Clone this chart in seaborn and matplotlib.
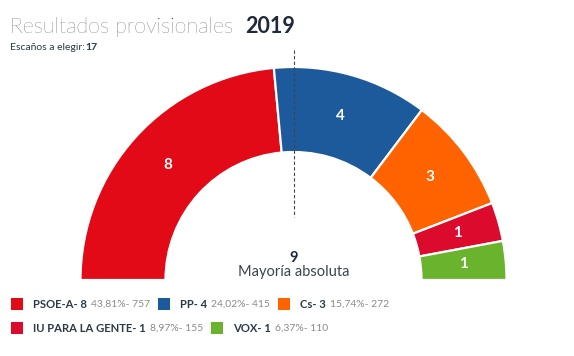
import matplotlib
matplotlib.use("Agg")
import matplotlib.pyplot as plt
import seaborn as sns

# ----------------------------------
# Data
# ----------------------------------
parties = ["PSOE-A", "PP", "Cs", "IU PARA LA GENTE", "VOX"]
seats = [8, 4, 3, 1, 1]
pct_labels = ["43,81%", "24,02%", "15,74%", "8,97%", "6,37%"]
votes = [757, 415, 272, 155, 110]
colors = ["#E30A17", "#1C5A9C", "#FF6300", "#DC0A2D", "#6AB42D"]
total_seats = 17
majority = 9
year = "2019"

sns.set_style("white")
plt.rcParams["font.family"] = ["Lato", "DejaVu Sans"]

W, H = 574, 356
fig = plt.figure(figsize=(W / 100, H / 100), dpi=100)
ax = fig.add_axes([0, 0, 1, 1])


def Y(y):
    # pixel row (from top) -> data y
    return H - y


# ----------------------------------
# Half donut
# ----------------------------------
cx, cy = 293.5, Y(280)
r_out, r_in = 213, 128
wedges, texts = ax.pie(
    seats + [total_seats],
    colors=colors + ["none"],
    labels=[str(s) for s in seats] + [""],
    labeldistance=(r_out + r_in) / 2 / r_out,
    startangle=180,
    counterclock=False,
    center=(cx, cy),
    radius=r_out,
    frame=True,
    wedgeprops=dict(width=r_out - r_in, edgecolor="white", linewidth=1.6),
    textprops=dict(color="white", fontsize=11, fontweight="bold"),
)
wedges[-1].set_edgecolor("none")
for t in texts:
    t.set_horizontalalignment("center")
    t.set_verticalalignment("center")

# majority line
ax.plot([cx, cx], [Y(50), Y(217)], color="#444444", lw=0.8, ls=(0, (3, 2)))
ax.text(cx, Y(258), str(majority), ha="center", va="center",
        fontsize=10.5, fontweight="bold", color="#1e2a38")
ax.text(cx, Y(272), "Mayoría absoluta", ha="center", va="center",
        fontsize=10.5, color="#3a4550")

# ----------------------------------
# Titles
# ----------------------------------
ax.text(10, Y(33), "Resultados provisionales", ha="left", va="baseline",
        fontsize=15.5, fontweight="light", color="#1c2630")
ax.text(245, Y(33), year, ha="left", va="baseline",
        fontsize=15.5, fontweight="bold", color="#1e2a38")
t1 = ax.text(10, Y(47), "Escaños a elegir:", ha="left", va="center",
             fontsize=7.5, color="#2b3a48")

ax.set_xlim(0, W)
ax.set_ylim(0, H)
ax.set_aspect("equal")
ax.axis("off")

fig.canvas.draw()
rend = fig.canvas.get_renderer()
x_end = t1.get_window_extent(rend).x1
ax.text(x_end, Y(47), str(total_seats), ha="left", va="center",
        fontsize=7.5, fontweight="bold", color="#2b3a48")

# ----------------------------------
# Legend (flowed text)
# ----------------------------------
rows = [[0, 1, 2], [3, 4]]
row_y = [304, 328]
for row, yy in zip(rows, row_y):
    x = 11
    for i in row:
        ax.add_patch(plt.Rectangle((x, Y(yy) - 5.5), 11.5, 11.5, color=colors[i], lw=0))
        x += 22
        tn = ax.text(x, Y(yy), f"{parties[i]}- {seats[i]}", ha="left", va="center",
                     fontsize=8.1, fontweight="bold", color="#2b3a48")
        fig.canvas.draw()
        x = tn.get_window_extent(rend).x1 + 4
        tv = ax.text(x, Y(yy), f"{pct_labels[i]}- {votes[i]}", ha="left", va="center",
                     fontsize=7.5, color="#8a8a8a")
        fig.canvas.draw()
        x = tv.get_window_extent(rend).x1 + 8

fig.savefig("out.png", dpi=100)
